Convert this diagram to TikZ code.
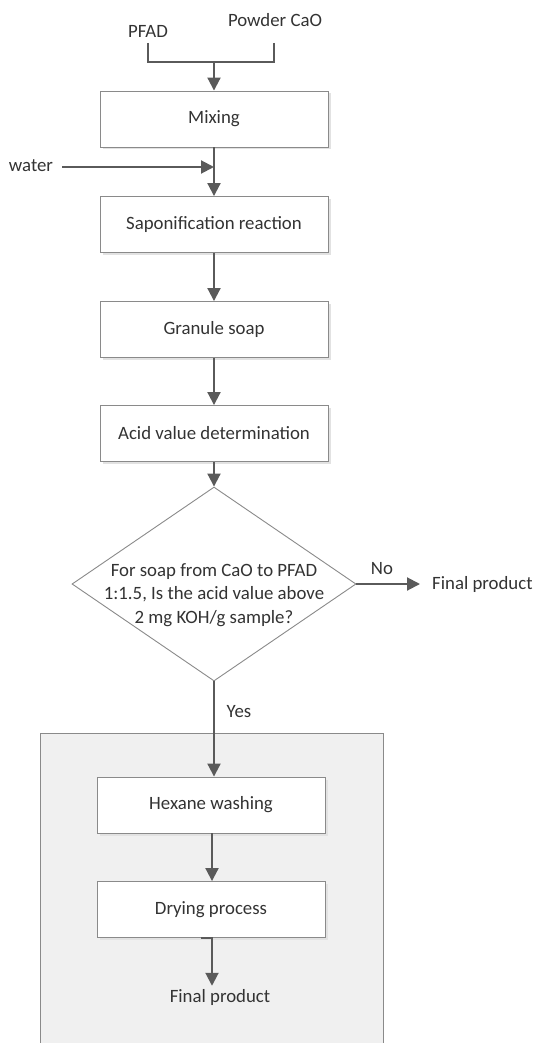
\documentclass[tikz,border=0pt]{standalone}
\usepackage{fontspec}
\setmainfont{Carlito}
\usetikzlibrary{shapes.geometric,arrows.meta}
\definecolor{linec}{HTML}{5A5A5A}
\definecolor{boxc}{HTML}{8A8A8A}
\definecolor{txtc}{HTML}{333333}
\definecolor{shadc}{HTML}{E2E2E2}
\definecolor{panelc}{HTML}{F0F0F0}
\begin{document}
\begin{tikzpicture}[x=1pt,y=-1pt,
  font=\fontsize{18.8}{23.5}\selectfont, text=txtc,
  procbox/.style={draw=boxc, line width=0.9pt, fill=white, minimum width=228pt, minimum height=56pt, inner sep=0pt,
    append after command={}},
  shadbox/.style={fill=shadc, minimum width=228pt, minimum height=56pt, inner sep=0pt},
  lbl/.style={inner sep=2pt},
  arr/.style={draw=linec, line width=2pt, -{Triangle[length=13pt,width=13pt]}},
  ln/.style={draw=linec, line width=2pt}]
\useasboundingbox (0,0) rectangle (534,1043);

% panel
\fill[panelc] (40,733) rectangle (383,1043);
\draw[boxc, line width=0.9pt] (40,1043) |- (383,733) -- (383,1043);

% shadows
\foreach \cx/\cy in {214/119, 214/224.5, 214/329.5, 214/433.5, 211/805, 211/909.5}
  \node[shadbox] at (\cx+2.5,\cy+2.5) {};

% inputs
\node[lbl] (pfad) at (148,31) {PFAD};
\node[lbl] (powder) at (275,20) {Powder CaO};
\coordinate (p1) at (148,43);
\coordinate (p2) at (274,43);
\coordinate (jn) at (214,62);

% boxes
\node[procbox] (mix) at (214,119) {Mixing};
\node[procbox] (sap) at (214,224.5) {Saponification reaction};
\node[procbox] (gran) at (214,329.5) {Granule soap};
\node[procbox] (acid) at (214,433.5) {Acid value determination};

% water
\node[lbl] (water) at (31,166) {water};
\coordinate (w1) at (62,167);
\coordinate (wj) at (214,167);

% decision
\node[draw=boxc, line width=0.9pt, fill=white, shape=diamond, minimum width=284pt, minimum height=194pt, inner sep=0pt] (dec) at (214,584) {};
\node[align=center, inner sep=0pt] (dtext) at (214,595) {For soap from CaO to PFAD\\1:1.5, Is the acid value above\\2 mg KOH/g sample?};
\node[lbl] (no) at (382,569) {No};
\node[anchor=west, inner sep=0pt] (fpr) at (432,584) {Final product};
\coordinate (noend) at (420,584);
\node[lbl] (yes) at (239,712) {Yes};

% lower boxes
\node[procbox] (hex) at (211,805) {Hexane washing};
\node[procbox] (dry) at (211,909.5) {Drying process};
\node[inner sep=3pt] (fin) at (220,997) {Final product};
\coordinate (jogA) at (201,938);
\coordinate (jogB) at (212,938);

% connectors
\draw[ln] (p1) |- (jn);
\draw[ln] (p2) |- (jn);
\draw[arr] (jn) -- (mix.north);
\draw[arr] (w1) -- (wj);
\draw[arr] (mix.south) -- (sap.north);
\draw[arr] (sap.south) -- (gran.north);
\draw[arr] (gran.south) -- (acid.north);
\draw[arr] (acid.south) -- (dec.north);
\draw[arr] (dec.east) -- (noend);
\draw[arr] (dec.south) -- (dec.south |- hex.north);
\draw[arr] (hex.south -| 212,0) -- (dry.north -| 212,0);
\draw[arr] (jogA) -- (jogB) -- (jogB |- fin.north);
\end{tikzpicture}
\end{document}
